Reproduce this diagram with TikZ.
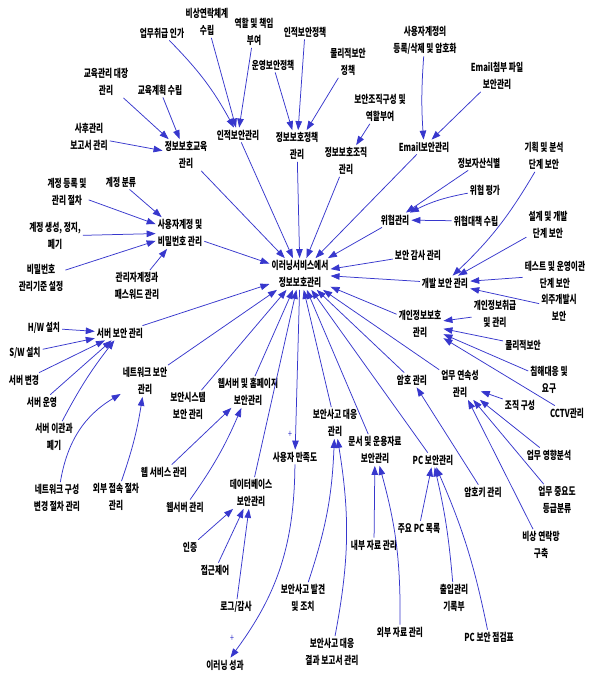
\documentclass[tikz,border=0pt]{standalone}
\usepackage{fontspec}
\setmainfont{Noto Sans CJK KR}[FakeStretch=0.70]
\usetikzlibrary{arrows.meta}
\definecolor{ln}{RGB}{55,55,205}
\begin{document}
\begin{tikzpicture}[x=1pt,y=-1pt,
  lbl/.style={font=\fontsize{11}{17}\selectfont\bfseries, align=center, inner sep=2pt, text=black},
  arr/.style={draw=ln, line width=0.75pt, -{Triangle[length=9pt,width=6.5pt]}},
  plus/.style={text=ln, font=\fontsize{10}{10}\selectfont, inner sep=0pt}]
\useasboundingbox[fill=white] (0,0) rectangle (590,675);

% center
\node[lbl] (c) at (300,274) {이러닝서비스에서\\정보보호관리};

% education
\node[lbl] (edu) at (186,155) {정보보호교육\\관리};
\node[lbl] (edu1) at (106,82) {교육관리 대장\\관리};
\node[lbl] (edu2) at (160,90) {교육계획 수립};
\node[lbl] (edu3) at (89,137) {사후관리\\보고서 관리};

% personnel
\node[lbl] (ins) at (238,135) {인적보안관리};
\node[lbl] (ins1) at (207,22) {비상연락체계\\수립};
\node[lbl] (ins2) at (254,32) {역할 및 책임\\부여};
\node[lbl] (ins3) at (162,33) {업무취급 인가};

% policy
\node[lbl] (pol) at (297,146) {정보보호정책\\관리};
\node[lbl] (pol1) at (305,32) {인적보안정책};
\node[lbl] (pol2) at (273,65) {운영보안정책};
\node[lbl] (pol3) at (348,62) {물리적보안\\정책};

% organisation
\node[lbl] (org) at (346,161) {정보보호조직\\관리};
\node[lbl] (org1) at (380,108) {보안조직구성 및\\역할부여};

% email
\node[lbl] (email) at (424,147) {Email보안관리};
\node[lbl] (em1) at (425,40) {사용자계정의\\등록/삭제 및 암호화};
\node[lbl] (em2) at (497,76) {Email첨부 파일\\보안관리};

% threat
\node[lbl] (thr) at (395,220) {위협관리};
\node[lbl] (thr1) at (479,163) {정보자산식별};
\node[lbl] (thr2) at (485,190) {위협 평가};
\node[lbl] (thr3) at (476,221) {위협대책 수립};

% audit
\node[lbl] (aud) at (418,255) {보안 감사 관리};

% development
\node[lbl] (dev) at (445,283) {개발 보안 관리};
\node[lbl] (dev1) at (544,156) {기획 및 분석\\단계 보안};
\node[lbl] (dev2) at (548,225) {설계 및 개발\\단계 보안};
\node[lbl] (dev3) at (555,275) {테스트 및 운영이관\\단계 보안};
\node[lbl] (dev4) at (559,308) {외주개발시\\보안};

% privacy
\node[lbl] (priv) at (420,324) {개인정보보호\\관리};
\node[lbl] (priv1) at (495,314) {개인정보취급\\및 관리};
\node[lbl] (priv2) at (523,345) {물리적보안};
\node[lbl] (priv3) at (549,380) {침해대응 및\\요구};
\node[lbl] (priv4) at (567,413) {CCTV관리};

% crypto
\node[lbl] (cry) at (412,380) {암호 관리};
\node[lbl] (cry1) at (483,492) {암호키 관리};

% business continuity
\node[lbl] (bcp) at (460,384) {업무 연속성\\관리};
\node[lbl] (bcp1) at (520,405) {조직 구성};
\node[lbl] (bcp2) at (549,455) {업무 영향분석};
\node[lbl] (bcp3) at (557,500) {업무 중요도\\등급분류};
\node[lbl] (bcp4) at (541,545) {비상 연락망\\구축};

% pc
\node[lbl] (pc) at (433,460) {PC 보안관리};
\node[lbl] (pc1) at (419,528) {주요 PC 목록};
\node[lbl] (pc2) at (454,598) {출입관리\\기록부};
\node[lbl] (pc3) at (489,637) {PC 보안 점검표};

% documents
\node[lbl] (doc) at (375,450) {문서 및 운용자료\\보안관리};
\node[lbl] (doc1) at (374,545) {내부 자료 관리};
\node[lbl] (doc2) at (400,632) {외부 자료 관리};

% incident
\node[lbl] (inc) at (335,423) {보안사고 대응\\관리};
\node[lbl] (inc1) at (303,598) {보안사고 발견\\및 조치};
\node[lbl] (inc2) at (332,652) {보안사고 대응\\결과 보고서 관리};

% satisfaction
\node[lbl] (sat) at (295,457) {사용자 만족도};
\node[lbl] (elr) at (225,665) {이러닝 성과};
\node[plus] (p1) at (290,434) {+};
\node[plus] (p2) at (232,638) {+};

% database
\node[lbl] (db) at (251,493) {데이터베이스\\보안관리};
\node[lbl] (db1) at (190,547) {인증};
\node[lbl] (db2) at (215,570) {접근제어};
\node[lbl] (db3) at (236,607) {로그/감사};

% web
\node[lbl] (web) at (248,392) {웹서버 및 홈페이지\\보안관리};
\node[lbl] (web1) at (164,472) {웹 서비스 관리};
\node[lbl] (web2) at (185,507) {웹서버 관리};

% security system
\node[lbl] (sec) at (188,406) {보안시스템\\보안 관리};

% network
\node[lbl] (net) at (145,381) {네트워크 보안\\관리};
\node[lbl] (net1) at (57,498) {네트워크 구성\\변경 절차 관리};
\node[lbl] (net2) at (116,497) {외부 접속 절차\\관리};

% server
\node[lbl] (srv) at (120,333) {서버 보안 관리};
\node[lbl] (srv1) at (44,328) {H/W 설치};
\node[lbl] (srv2) at (25,353) {S/W 설치};
\node[lbl] (srv3) at (24,380) {서버 변경};
\node[lbl] (srv4) at (42,402) {서버 운영};
\node[lbl] (srv5) at (54,437) {서버 이관과\\폐기};

% accounts
\node[lbl] (acct) at (180,233) {사용자계정 및\\비밀번호 관리};
\node[lbl] (acct1) at (121,182) {계정 분류};
\node[lbl] (acct2) at (67,192) {계정 등록 및\\관리 절차};
\node[lbl] (acct3) at (55,236) {계정 생성, 정지,\\폐기};
\node[lbl] (acct4) at (41,278) {비밀번호\\관리기준 설정};
\node[lbl] (acct5) at (137,286) {관리자계정과\\패스워드 관리};

% ---- arrows into center
\foreach \n in {edu,ins,pol,org,email,thr,aud,dev,priv,cry,bcp,pc,doc,inc,db,web,sec,net,srv,acct}
  \draw[arr] (\n) -- (c);
\draw[arr] (c) -- (sat);
\draw[arr] (sat) to[bend left=18] (elr);

% ---- children
\draw[arr] (edu1) -- (edu);
\draw[arr] (edu2) -- (edu);
\draw[arr] (edu3) -- (edu);

\draw[arr] (ins1) -- (ins);
\draw[arr] (ins2) -- (ins);
\draw[arr] (ins3) to[bend left=8] (ins);

\draw[arr] (pol1) -- (pol);
\draw[arr] (pol2) -- (pol);
\draw[arr] (pol3) -- (pol);

\draw[arr] (org1) -- (org);

\draw[arr] (em1) to[bend right=4] (email);
\draw[arr] (em2) -- (email);

\draw[arr] (thr1) -- (thr);
\draw[arr] (thr2) to[bend right=8] (thr);
\draw[arr] (thr3) -- (thr);

\draw[arr] (dev1) to[bend left=8] (dev);
\draw[arr] (dev2) -- (dev);
\draw[arr] (dev3) -- (dev);
\draw[arr] (dev4) -- (dev);

\draw[arr] (priv1) -- (priv);
\draw[arr] (priv2) -- (priv);
\draw[arr] (priv3) -- (priv);
\draw[arr] (priv4) -- (priv);

\draw[arr] (cry1) -- (cry);

\draw[arr] (bcp1) -- (bcp);
\draw[arr] (bcp2) -- (bcp);
\draw[arr] (bcp3) -- (bcp);
\draw[arr] (bcp4) -- (bcp);

\draw[arr] (pc1) -- (pc);
\draw[arr] (pc2) to[bend right=4] (pc);
\draw[arr] (pc3) to[bend right=6] (pc);

\draw[arr] (doc1) -- (doc);
\draw[arr] (doc2) to[bend right=8] (doc);

\draw[arr] (inc1) to[bend right=8] (inc);
\draw[arr] (inc2) to[bend right=10] (inc);

\draw[arr] (db1) -- (db);
\draw[arr] (db2) -- (db);
\draw[arr] (db3) -- (db);

\draw[arr] (web1) -- (web);
\draw[arr] (web2) to[bend right=6] (web);

\draw[arr] (net1) to[bend left=25] (net);
\draw[arr] (net2) to[bend right=5] (net);

\draw[arr] (srv1) -- (srv);
\draw[arr] (srv2) -- (srv);
\draw[arr] (srv3) -- (srv);
\draw[arr] (srv4) -- (srv);
\draw[arr] (srv5) to[bend left=5] (srv);

\draw[arr] (acct1) -- (acct);
\draw[arr] (acct2) -- (acct);
\draw[arr] (acct3) -- (acct);
\draw[arr] (acct4) -- (acct);
\draw[arr] (acct5) -- (acct);
\end{tikzpicture}
\end{document}
